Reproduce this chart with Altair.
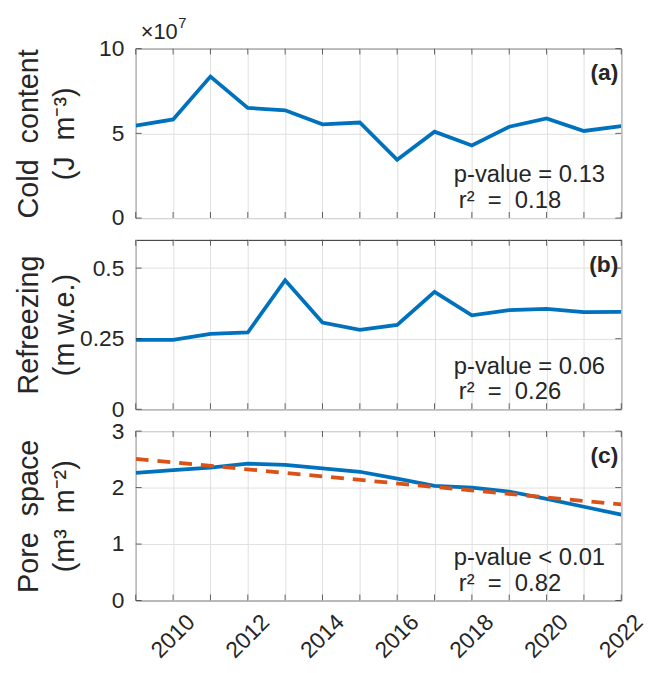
import altair as alt
import pandas as pd

years = list(range(2009, 2023))
cold = [5.45, 5.82, 8.35, 6.50, 6.36, 5.53, 5.64, 3.44, 5.10, 4.28, 5.39, 5.88, 5.14, 5.43]
refreeze = [0.246, 0.246, 0.267, 0.272, 0.457, 0.307, 0.281, 0.299, 0.416, 0.333, 0.351, 0.356, 0.344, 0.345]
pore = [2.26, 2.31, 2.355, 2.425, 2.40, 2.34, 2.28, 2.16, 2.03, 2.00, 1.93, 1.80, 1.66, 1.52]

NB = "\u00a0"
ticks_a = [0, 5, 10]
ticks_b = [0, 0.25, 0.5]
ticks_c = [0, 1, 2, 3]
domains = [[0, 10], [0, 0.6], [0, 3]]
titles = [["Cold" + NB + NB + "content", "(J" + NB + NB + "m⁻³)"],
          ["Refreezing", "(m" + NB + "w.e.)"],
          ["Pore" + NB + NB + "space", "(m³" + NB + NB + "m⁻²)"]]
tags = ["(a)", "(b)", "(c)"]
pvals = ["p-value = 0.13", "p-value = 0.06", "p-value < 0.01"]
r2s = ["r²" + NB + NB + "=" + NB + NB + "0.18",
       "r²" + NB + NB + "=" + NB + NB + "0.26",
       "r²" + NB + NB + "=" + NB + NB + "0.82"]

W, H = 490, 171
FONT = "Liberation Sans"
DARK = "#262626"
BLUE = "#0072BD"
RED = "#D95319"


def panel(values, ticks, domain, title, tag, pv, r2, bottom=False, trend=False, exponent=False):
    df = pd.DataFrame({"year": years, "v": values})
    xaxis = alt.Axis(
        values=years, grid=True, ticks=False, domain=False, title=None,
        labels=bottom, labelOverlap=False, labelFlush=False,
        labelExpr="datum.value % 2 == 0 ? '' + datum.value : ''",
        labelAngle=-45, labelAlign="right", labelBaseline="top",
        labelPadding=10, labelOffset=10, labelFontSize=23,
    )
    x = alt.X("year:Q", scale=alt.Scale(domain=[2009, 2022], nice=False, zero=False), axis=xaxis)
    yaxis = alt.Axis(
        values=ticks, grid=True, ticks=False, domain=False, title=title,
        labelExpr="'' + datum.value", labelOverlap=False, labelFlush=False,
        labelFontSize=23, labelPadding=12, minExtent=40, maxExtent=40,
        titleFontSize=29, titleFontWeight="normal", titleLineHeight=36,
        titlePadding=17,
    )
    y = alt.Y("v:Q", scale=alt.Scale(domain=domain, nice=False), axis=yaxis)

    layers = []
    line = alt.Chart(df).mark_line(color=BLUE, strokeWidth=3.8, clip=True).encode(x=x, y=y)
    layers.append(line)
    if trend:
        tr = alt.Chart(df).transform_regression("year", "v", extent=[2009, 2022]).mark_line(
            color=RED, strokeDash=[13, 9], strokeWidth=3.8, clip=True
        ).encode(x=x, y=y)
        layers.append(tr)

    # inner tick marks (MATLAB style) on all four sides
    yrs = pd.DataFrame({"year": years})
    tk = pd.DataFrame({"v": ticks})
    for yy in (H - 3, 3):
        layers.append(alt.Chart(yrs).mark_tick(orient="vertical", size=6, thickness=1, color=DARK)
                      .encode(x=x, y=alt.value(yy)))
    for xx in (3, W - 3):
        layers.append(alt.Chart(tk).mark_tick(orient="horizontal", size=6, thickness=1, color=DARK)
                      .encode(y=y, x=alt.value(xx)))

    ann = pd.DataFrame({"tag": [tag], "pv": [pv], "r2": [r2]})
    layers.append(alt.Chart(ann).mark_text(align="right", baseline="middle", fontSize=23,
                                           fontWeight="bold", font=FONT, color=DARK)
                  .encode(text="tag:N", x=alt.value(487), y=alt.value(25)))
    layers.append(alt.Chart(ann).mark_text(align="left", baseline="middle", fontSize=24,
                                           font=FONT, color=DARK)
                  .encode(text="pv:N", x=alt.value(321), y=alt.value(128)))
    layers.append(alt.Chart(ann).mark_text(align="left", baseline="middle", fontSize=24,
                                           font=FONT, color=DARK)
                  .encode(text="r2:N", x=alt.value(326), y=alt.value(154)))
    if exponent:
        layers.append(alt.Chart(ann).mark_text(align="left", baseline="alphabetic", fontSize=22,
                                               font=FONT, color=DARK)
                      .encode(text=alt.value("×10"), x=alt.value(5), y=alt.value(-10)))
        layers.append(alt.Chart(ann).mark_text(align="left", baseline="alphabetic", fontSize=15,
                                               font=FONT, color=DARK)
                      .encode(text=alt.value("7"), x=alt.value(43), y=alt.value(-21)))
    return alt.layer(*layers).properties(width=W, height=H)


pa = panel(cold, ticks_a, domains[0], titles[0], tags[0], pvals[0], r2s[0], exponent=True)
pb = panel(refreeze, ticks_b, domains[1], titles[1], tags[1], pvals[1], r2s[1])
pc = panel(pore, ticks_c, domains[2], titles[2], tags[2], pvals[2], r2s[2], bottom=True, trend=True)

chart = alt.vconcat(pa, pb, pc, spacing=22, bounds="flush").properties(
    padding={"left": 14, "top": 12, "right": 0, "bottom": 0},
    background="white",
).configure_view(stroke=DARK, strokeWidth=1).configure_axis(
    labelFont=FONT, titleFont=FONT, labelColor=DARK, titleColor=DARK,
    gridColor="#e0e0e0", gridWidth=1,
)

chart.save("out.html", embed_options={"renderer": "svg", "actions": False})
